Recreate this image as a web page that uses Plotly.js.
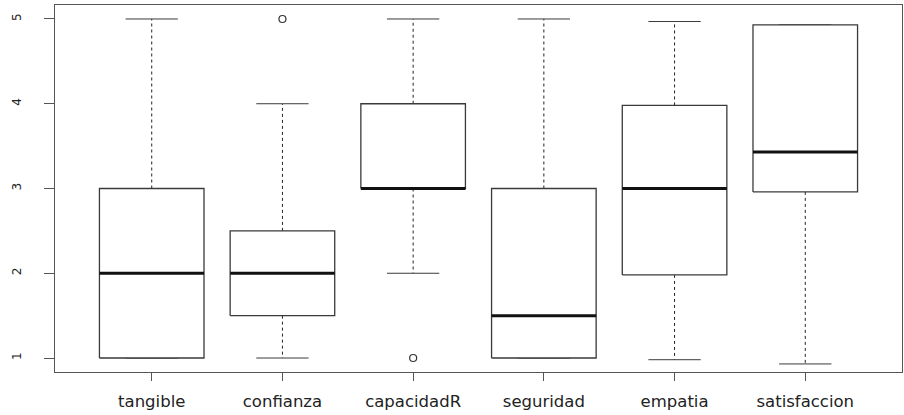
<!DOCTYPE html>
<html>
<head>
<meta charset="utf-8">
<script src="https://cdn.plot.ly/plotly-3.0.1.min.js"></script>
<style>
html,body{margin:0;padding:0;background:#fff;}
#chart{width:904px;height:415px;}
</style>
</head>
<body>
<div id="chart"></div>
<script>
const categories = ['tangible','confianza','capacidadR','seguridad','empatia','satisfaccion'];
const lowerWhisker = [1, 1, 2, 1, 0.98, 0.93];
const q1 = [1, 1.5, 3, 1, 1.98, 2.96];
const median = [2, 2, 3, 1.5, 3, 3.43];
const q3 = [3, 2.5, 4, 3, 3.98, 4.93];
const upperWhisker = [5, 4, 5, 5, 4.97, 4.93];
const outlierCategory = ['confianza', 'capacidadR'];
const outlierValue = [5, 1];

const BOXHALF = 0.4, CAPHALF = 0.2;
const boxColor = '#3a3a3a';
const traces = [];
categories.forEach((c, k) => {
  const i = k + 1;
  // whiskers (dashed)
  traces.push({x:[i,i,null,i,i], y:[q3[k],upperWhisker[k],null,q1[k],lowerWhisker[k]],
    mode:'lines', line:{color:'#222', width:1, dash:'3px,3px'}, hoverinfo:'skip', showlegend:false});
  // caps
  traces.push({x:[i-CAPHALF,i+CAPHALF,null,i-CAPHALF,i+CAPHALF], y:[upperWhisker[k],upperWhisker[k],null,lowerWhisker[k],lowerWhisker[k]],
    mode:'lines', line:{color:boxColor, width:1}, hoverinfo:'skip', showlegend:false});
  // box
  traces.push({x:[i-BOXHALF,i+BOXHALF,i+BOXHALF,i-BOXHALF,i-BOXHALF], y:[q1[k],q1[k],q3[k],q3[k],q1[k]],
    mode:'lines', fill:'toself', fillcolor:'#ffffff', line:{color:boxColor, width:1.3}, hoverinfo:'skip', showlegend:false});
  // median
  traces.push({x:[i-BOXHALF,i+BOXHALF], y:[median[k],median[k]],
    mode:'lines', line:{color:'#111', width:3}, hoverinfo:'skip', showlegend:false});
});
traces.push({x: outlierCategory.map(c => categories.indexOf(c) + 1), y: outlierValue,
  mode:'markers', marker:{symbol:'circle-open', size:7, color:'#333', line:{width:1.2}}, showlegend:false});

const layout = {
  width:904, height:415,
  margin:{l:55, r:2, t:5, b:43},
  paper_bgcolor:'#fff', plot_bgcolor:'#fff',
  font:{family:'DejaVu Sans, sans-serif', color:'#222'},
  xaxis:{range:[0.26,6.74], tickvals:categories.map((c,k)=>k+1), ticktext:categories,
    showgrid:false, zeroline:false, showline:true, mirror:true, linecolor:'#555', linewidth:1,
    ticks:'outside', ticklen:8, tickcolor:'#555', tickfont:{size:16.5, family:'DejaVu Sans, sans-serif', color:'#222'},
    ticklabelstandoff:6},
  yaxis:{range:[0.835,5.165], tickvals:[1,2,3,4,5], ticktext:['1','2','3','4','5'],
    showgrid:false, zeroline:false, showline:true, mirror:true, linecolor:'#555', linewidth:1,
    ticks:'outside', ticklen:10, tickcolor:'#555', tickangle:-90,
    tickfont:{size:12, family:'DejaVu Sans, sans-serif', color:'#222'}, ticklabelstandoff:18}
};
Plotly.newPlot('chart', traces, layout, {staticPlot:true, displayModeBar:false});
</script>
</body>
</html>
